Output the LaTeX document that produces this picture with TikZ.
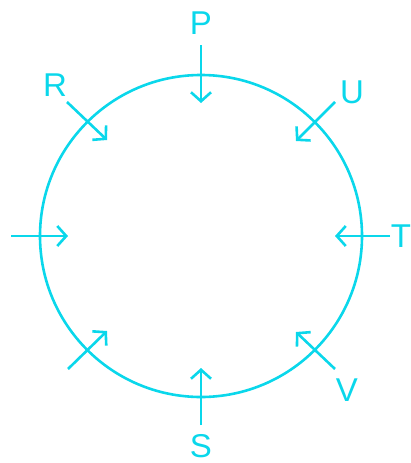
\documentclass[tikz,border=0pt]{standalone}
\usepackage{fontspec}
\setmainfont{Liberation Sans}
\usetikzlibrary{arrows.meta}
\definecolor{cy}{RGB}{10,215,235}
\tikzset{
  arr/.style={draw=cy, line width=2.6pt, -{Straight Barb[length=9pt,width=20pt,line width=2.6pt]}},
  lbl/.style={text=cy, font=\fontsize{33}{33}\selectfont, inner sep=0pt}
}
\begin{document}
\begin{tikzpicture}[x=1pt,y=-1pt]
\useasboundingbox (0,0) rectangle (411,463);
\node[draw=cy, line width=2.6pt, circle, minimum size=322pt, inner sep=0pt] (c) at (201,236) {};
% labels
\node[lbl] (P) at (201,23) {P};
\node[lbl] (U) at (352,92) {U};
\node[lbl] (T) at (401,236) {T};
\node[lbl] (R) at (55,85) {R};
\node[lbl] (S) at (201,446) {S};
\node[lbl] (V) at (347,390) {V};
% arrow endpoints
\coordinate (p1) at (201,45);  \coordinate (p2) at (201,103);
\coordinate (u1) at (335,102); \coordinate (u2) at (296,141);
\coordinate (t1) at (390,236); \coordinate (t2) at (335,236);
\coordinate (r1) at (67,102);  \coordinate (r2) at (107,140);
\coordinate (l1) at (11,236);  \coordinate (l2) at (68,236);
\coordinate (ll1) at (68,369); \coordinate (ll2) at (107,331);
\coordinate (s1) at (201,425); \coordinate (s2) at (201,368);
\coordinate (v1) at (335,369); \coordinate (v2) at (296,332);
\draw[arr] (p1) -- (p2);
\draw[arr] (u1) -- (u2);
\draw[arr] (t1) -- (t2);
\draw[arr] (r1) -- (r2);
\draw[arr] (l1) -- (l2);
\draw[arr] (ll1) -- (ll2);
\draw[arr] (s1) -- (s2);
\draw[arr] (v1) -- (v2);
\end{tikzpicture}
\end{document}
